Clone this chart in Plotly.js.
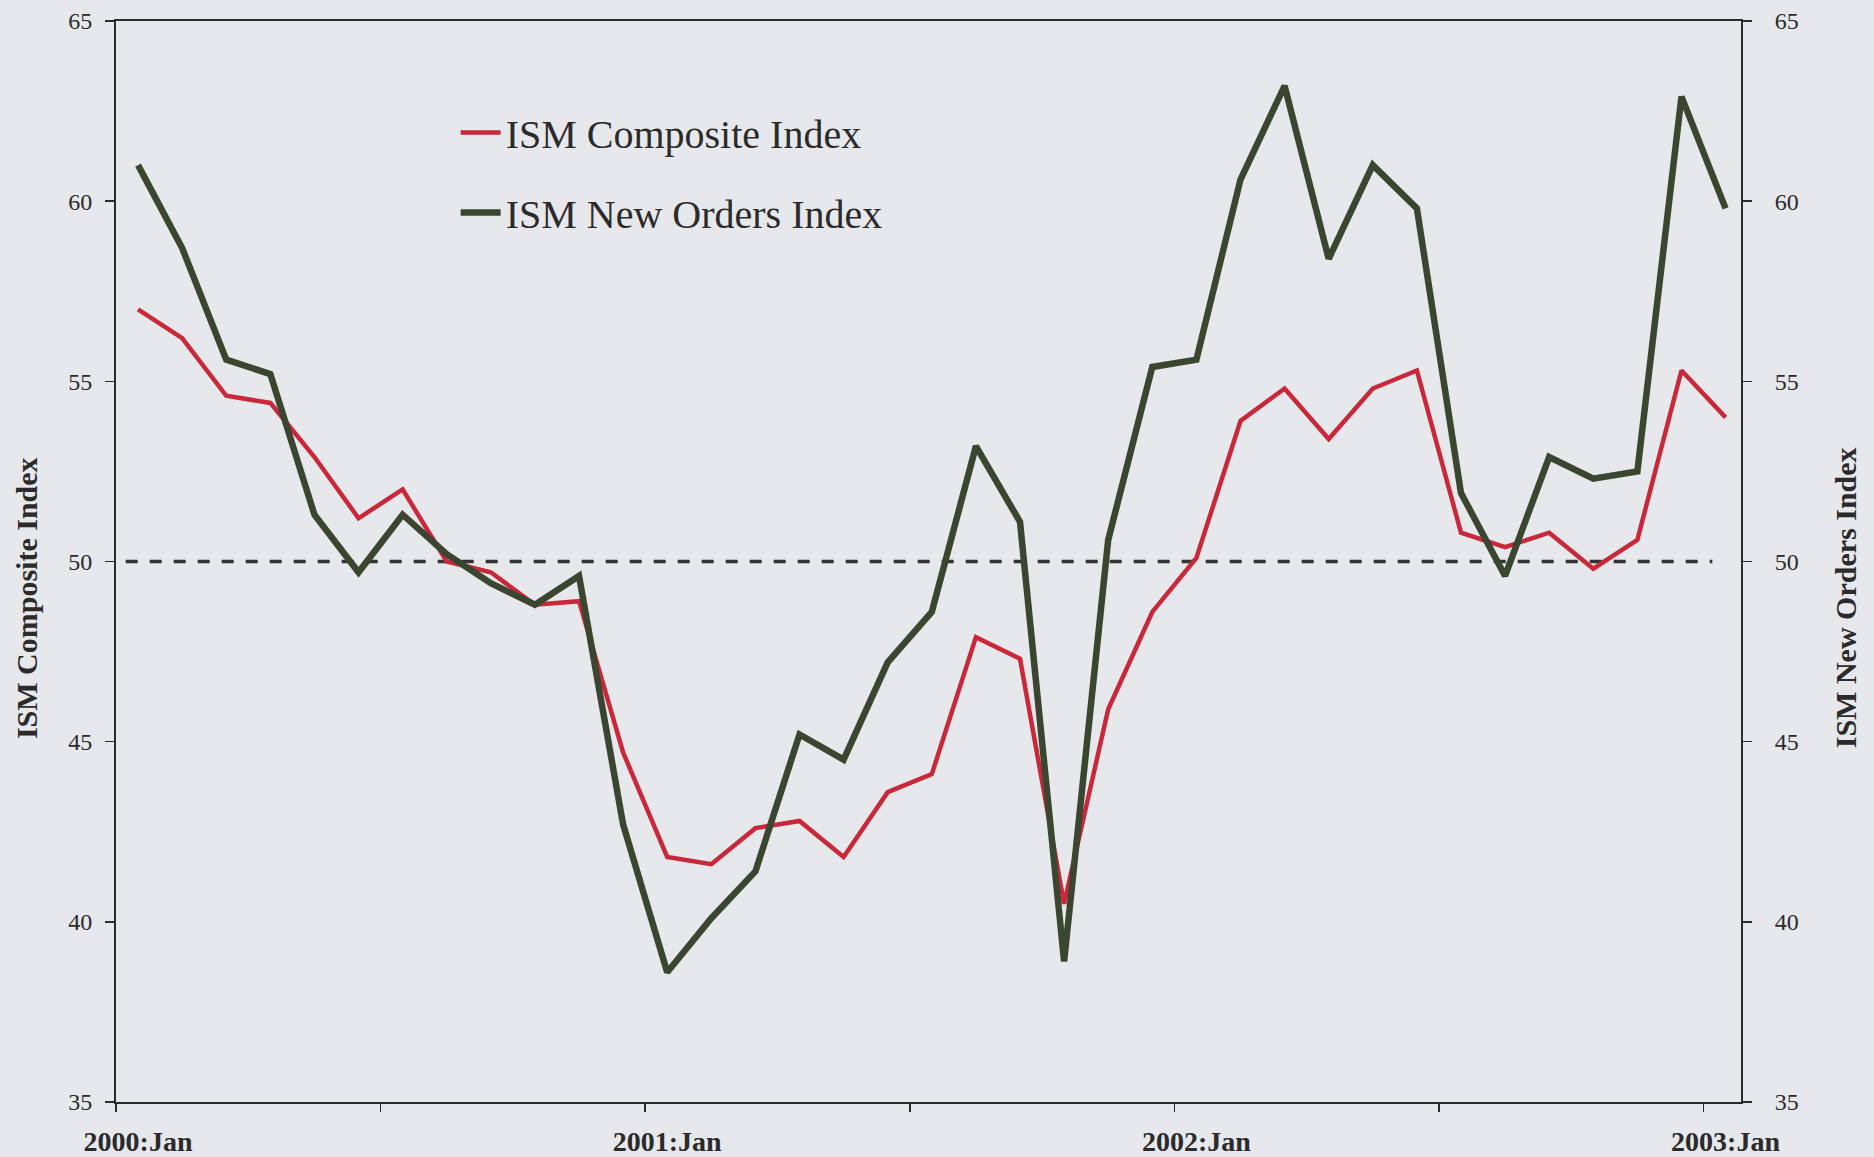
<!DOCTYPE html>
<html>
<head>
<meta charset="utf-8">
<script src="https://cdn.plot.ly/plotly-3.0.1.min.js"></script>
<style>
  html, body { margin: 0; padding: 0; background: #e7e8eb; }
  #chart { width: 1874px; height: 1157px; }
</style>
</head>
<body>
<div id="chart"></div>
<script>
// ---- data ----
const months = [
  "2000:Jan","2000:Feb","2000:Mar","2000:Apr","2000:May","2000:Jun",
  "2000:Jul","2000:Aug","2000:Sep","2000:Oct","2000:Nov","2000:Dec",
  "2001:Jan","2001:Feb","2001:Mar","2001:Apr","2001:May","2001:Jun",
  "2001:Jul","2001:Aug","2001:Sep","2001:Oct","2001:Nov","2001:Dec",
  "2002:Jan","2002:Feb","2002:Mar","2002:Apr","2002:May","2002:Jun",
  "2002:Jul","2002:Aug","2002:Sep","2002:Oct","2002:Nov","2002:Dec",
  "2003:Jan"
];
const composite = [
  57.0, 56.2, 54.6, 54.4, 52.9, 51.2,
  52.0, 50.0, 49.7, 48.8, 48.9, 44.7,
  41.8, 41.6, 42.6, 42.8, 41.8, 43.6,
  44.1, 47.9, 47.3, 40.5, 45.9, 48.6,
  50.1, 53.9, 54.8, 53.4, 54.8, 55.3,
  50.8, 50.4, 50.8, 49.8, 50.6, 55.3,
  54.0
];
const newOrders = [
  61.0, 58.7, 55.6, 55.2, 51.3, 49.7,
  51.3, 50.2, 49.4, 48.8, 49.6, 42.7,
  38.6, 40.1, 41.4, 45.2, 44.5, 47.2,
  48.6, 53.2, 51.1, 38.9, 50.6, 55.4,
  55.6, 60.6, 63.2, 58.4, 61.0, 59.8,
  51.9, 49.6, 52.9, 52.3, 52.5, 62.9,
  59.8
];
const boundaryTicks = ["2000:Jan","2000:Jul","2001:Jan","2001:Jul","2002:Jan","2002:Jul","2003:Jan"];
const yearLabels = ["2000:Jan","2001:Jan","2002:Jan","2003:Jan"];
const yTicks = [35, 40, 45, 50, 55, 60, 65];
const neutralLevel = 50;
const leftTitle = 'ISM Composite Index';
const rightTitle = 'ISM New Orders Index';

// ---- positions derived from the month categories ----
const xPos = months.map((m, i) => i + 0.5);
const boundaryVals = boundaryTicks.map(m => months.indexOf(m));
const labelVals = yearLabels.map(m => months.indexOf(m) + 0.5);

const BG = '#e7e8eb';
const INK = '#2b2b2b';
const SERIF = '"Liberation Serif", "Times New Roman", serif';
const xRange = [0, 36.85];

const traces = [
  {
    x: xPos, y: composite, type: 'scatter', mode: 'lines',
    name: 'ISM Composite Index', legendgroup: 'a',
    line: { color: '#c8283a', width: 4.5 },
    xaxis: 'x', yaxis: 'y'
  },
  {
    x: xPos, y: newOrders, type: 'scatter', mode: 'lines',
    name: 'ISM New Orders Index', legendgroup: 'b',
    line: { color: '#3b4630', width: 6.5 },
    xaxis: 'x2', yaxis: 'y2'
  }
];

const layout = {
  width: 1874, height: 1157,
  paper_bgcolor: BG, plot_bgcolor: BG,
  margin: { l: 116, r: 133, t: 21, b: 55 },
  font: { family: SERIF, color: INK, size: 24 },
  showlegend: true,
  legend: {
    x: 0.209, y: 0.927, xanchor: 'left', yanchor: 'top',
    bgcolor: 'rgba(0,0,0,0)', borderwidth: 0,
    font: { family: SERIF, size: 40, color: INK },
    tracegroupgap: 25, traceorder: 'grouped',
    itemwidth: 40
  },
  xaxis: {
    range: xRange, showgrid: false, zeroline: false,
    tickmode: 'array', tickvals: boundaryVals, ticktext: boundaryVals.map(() => ''),
    ticks: 'outside', ticklen: 8, tickwidth: 1.5, tickcolor: INK,
    showline: true, linecolor: INK, linewidth: 2, mirror: true
  },
  xaxis2: {
    range: xRange, overlaying: 'x', anchor: 'y', side: 'bottom',
    showgrid: false, zeroline: false, showline: false,
    tickmode: 'array', tickvals: labelVals, ticktext: yearLabels,
    ticks: '', ticklabelstandoff: 20,
    tickfont: { family: SERIF, size: 28, color: INK, weight: 'bold' }
  },
  yaxis: {
    range: [35, 65], showgrid: false, zeroline: false,
    tickmode: 'array', tickvals: yTicks,
    ticks: 'outside', ticklen: 9, tickwidth: 1.5, tickcolor: INK,
    ticklabelstandoff: 8,
    showline: true, linecolor: INK, linewidth: 2,
    tickfont: { family: SERIF, size: 24, color: INK }
  },
  yaxis2: {
    range: [35, 65], overlaying: 'y', side: 'right', anchor: 'x2',
    showgrid: false, zeroline: false,
    tickmode: 'array', tickvals: yTicks,
    ticks: 'outside', ticklen: 9, tickwidth: 1.5, tickcolor: INK,
    ticklabelstandoff: 18,
    showline: true, linecolor: INK, linewidth: 2,
    tickfont: { family: SERIF, size: 24, color: INK }
  },
  annotations: [
    {
      text: leftTitle, textangle: -90, showarrow: false,
      xref: 'paper', yref: 'paper', x: -0.0555, y: 0.466,
      xanchor: 'center', yanchor: 'middle',
      font: { family: SERIF, size: 30, color: INK, weight: 'bold' }
    },
    {
      text: rightTitle, textangle: -90, showarrow: false,
      xref: 'paper', yref: 'paper', x: 1.064, y: 0.466,
      xanchor: 'center', yanchor: 'middle',
      font: { family: SERIF, size: 30, color: INK, weight: 'bold' }
    }
  ],
  shapes: [
    {
      type: 'line', xref: 'x', yref: 'y',
      x0: xPos[0] - 0.28, x1: xPos[months.length - 1] - 0.3,
      y0: neutralLevel, y1: neutralLevel,
      line: { color: '#333333', width: 3.5, dash: '12px,12px' },
      layer: 'below'
    }
  ]
};

Plotly.newPlot('chart', traces, layout, { displayModeBar: false, staticPlot: true });
</script>
</body>
</html>
